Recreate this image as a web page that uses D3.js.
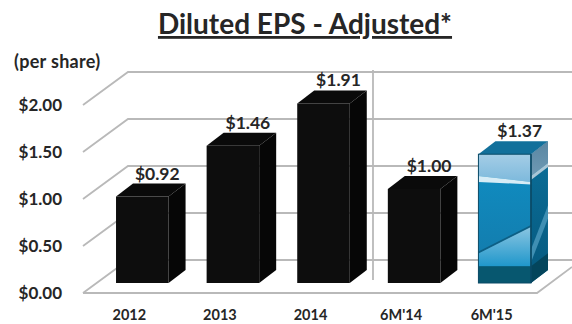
<!DOCTYPE html>
<html>
<head>
<meta charset="utf-8">
<script src="https://cdn.jsdelivr.net/npm/d3@7"></script>
<style>
html,body{margin:0;padding:0;background:#fff}
svg{display:block}
text{font-family:Lato,"Open Sans",sans-serif;font-weight:700;fill:#262626}
</style>
</head>
<body>
<svg id="chart" width="572" height="324"></svg>
<script>
const categories = ["2012", "2013", "2014", "6M'14", "6M'15"];
const eps = [0.92, 1.46, 1.91, 1.00, 1.37];
const yTicks = [0, 0.5, 1, 1.5, 2];

const money = d3.format("$.2f");
const svg = d3.select("#chart");

// Front plane of the floor and wall; the wall sits one depth step behind it.
const y = d3.scaleLinear().domain([0, 2]).range([293, 105]);
const barBase = 283;
const barHeight = v => y(0) - y(v);
const x = d3.scaleBand().domain(categories).range([97, 550]).paddingInner(0.42).paddingOuter(0.21);
const wall = {dx: 45, dy: -33};
const barDepth = {dx: 17, dy: -13};
const gridLeft = 83;
const floorRight = 537;

// Gridlines: a diagonal on the side wall, then a run along the back wall
const grid = svg.append("g").attr("fill", "none").attr("stroke", "#b9b9b9").attr("stroke-width", 1.8);
grid.selectAll("path").data(yTicks).join("path")
  .attr("d", d => `M${gridLeft},${y(d)}l${wall.dx},${wall.dy}H572`);
grid.append("path").attr("d", `M${gridLeft},${y(0)}H${floorRight}L572,${y(0) - 26}`);

// Separator between the full years and the half-year figures
grid.append("line").attr("x1", 373).attr("x2", 373).attr("y1", 70).attr("y2", 280);

// Value axis
const axis = d3.axisLeft(y).tickValues(yTicks).tickFormat(money).tickSize(0).tickPadding(0);
const axisG = svg.append("g").attr("transform", "translate(62,0)").call(axis);
axisG.select(".domain").remove();
axisG.selectAll("text").attr("font-size", 17).attr("dy", "0.32em").attr("x", 0);

svg.append("text").attr("x", 14).attr("y", 68).attr("font-size", 18).attr("letter-spacing", 0.3).text("(per share)");

// Category axis
svg.append("g").selectAll("text").data(categories).join("text")
  .attr("x", d => x(d) + x.bandwidth() / 2 - 13)
  .attr("y", 320).attr("text-anchor", "middle").attr("font-size", 14.5).text(d => d);

// Gradients for the highlighted bar
const defs = svg.append("defs");
function vGrad(id, stops) {
  const g = defs.append("linearGradient").attr("id", id).attr("x1", 0).attr("x2", 0).attr("y1", 0).attr("y2", 1);
  stops.forEach(([o, c]) => g.append("stop").attr("offset", o).attr("stop-color", c));
}
vGrad("sky", [[0, "#a4cde6"], [1, "#7db9dc"]]);
vGrad("deep", [[0, "#0f8fc4"], [1, "#1478a8"]]);
vGrad("wedge", [[0, "#8cc6e2"], [1, "#1f97cb"]]);
vGrad("sideTop", [[0, "#5a86a2"], [1, "#6f9ab4"]]);
vGrad("sideDeep", [[0, "#0b6f9a"], [1, "#06597e"]]);

const polyLine = d3.line();

// Plain bars: front, side and top faces
const bars = svg.append("g").selectAll("g").data(categories.map((c, i) => ({c, v: eps[i], i}))).join("g");

bars.each(function (d) {
  const g = d3.select(this);
  const x0 = x(d.c), x1 = x0 + x.bandwidth();
  const top = barBase - barHeight(d.v);
  const {dx, dy} = barDepth;
  const plain = d.i < 4;

  g.append("path")
    .attr("d", polyLine([[x0, top], [x0 + dx, top + dy], [x1 + dx, top + dy], [x1, top]]) + "Z")
    .attr("fill", plain ? "#0a0a0a" : "#12709b");
  g.append("path")
    .attr("d", polyLine([[x1, top], [x1 + dx, top + dy], [x1 + dx, barBase + dy], [x1, barBase]]) + "Z")
    .attr("fill", plain ? "#060606" : "url(#sideDeep)");
  g.append("rect").attr("x", x0).attr("y", top).attr("width", x1 - x0).attr("height", barBase - top)
    .attr("fill", plain ? "#0d0d0d" : "url(#deep)");

  if (!plain) {
    const h = barBase - top, w = x1 - x0;
    const fy = f => top + f * h;
    const fx = f => x0 + f * w;
    const sx = f => x1 + f * dx;
    const sy = (f, s) => fy(f) + s * dy;
    const face = (pts, fill) => g.append("path").attr("d", polyLine(pts) + "Z").attr("fill", fill);

    // Front face artwork
    face([[fx(0), fy(0)], [fx(1), fy(0)], [fx(1), fy(0.215)], [fx(0), fy(0.17)]], "url(#sky)");
    face([[fx(0), fy(0.17)], [fx(1), fy(0.215)], [fx(1), fy(0.235)], [fx(0), fy(0.215)]], "#d6ecf6");
    face([[fx(0), fy(0.765)], [fx(1), fy(0.56)], [fx(1), fy(0.87)], [fx(0), fy(0.87)]], "url(#wedge)");
    face([[fx(0), fy(0.755)], [fx(1), fy(0.55)], [fx(1), fy(0.565)], [fx(0), fy(0.77)]], "#0d5f85");
    face([[fx(0), fy(0.87)], [fx(1), fy(0.87)], [fx(1), fy(1)], [fx(0), fy(1)]], "#07576f");

    // Side face artwork
    face([[sx(0), sy(0, 0)], [sx(1), sy(0, 1)], [sx(1), sy(0.17, 1)], [sx(0), sy(0.17, 0)]], "url(#sideTop)");
    face([[sx(0), sy(0.17, 0)], [sx(1), sy(0.17, 1)], [sx(1), sy(0.2, 1)], [sx(0), sy(0.2, 0)]], "#a9c6d6");
    face([[sx(0), sy(0.74, 0)], [sx(1), sy(0.5, 1)], [sx(1), sy(0.6, 1)], [sx(0), sy(0.84, 0)]], "#3f8fb3");
    face([[sx(0), sy(0.87, 0)], [sx(1), sy(0.87, 1)], [sx(1), sy(1, 1)], [sx(0), sy(1, 0)]], "#04455c");

    // Dark edge around the front face
    g.append("rect").attr("x", x0).attr("y", top).attr("width", w).attr("height", h)
      .attr("fill", "none").attr("stroke", "#0b4a66").attr("stroke-width", 1);
    g.append("line").attr("x1", x1).attr("x2", x1).attr("y1", top).attr("y2", barBase)
      .attr("stroke", "#0b4a66").attr("stroke-width", 1.5);
  }

  // Value label above the bar
  g.append("text").attr("x", (x0 + x1) / 2 + 15).attr("y", top - 17)
    .attr("text-anchor", "middle").attr("font-size", 17.5).text(money(d.v));
});

// Heading
svg.append("text").attr("x", 305).attr("y", 34).attr("text-anchor", "middle")
  .attr("font-size", 28).attr("text-decoration", "underline").attr("fill", "#1a1a1a")
  .text("Diluted EPS - Adjusted*");
</script>
</body>
</html>
